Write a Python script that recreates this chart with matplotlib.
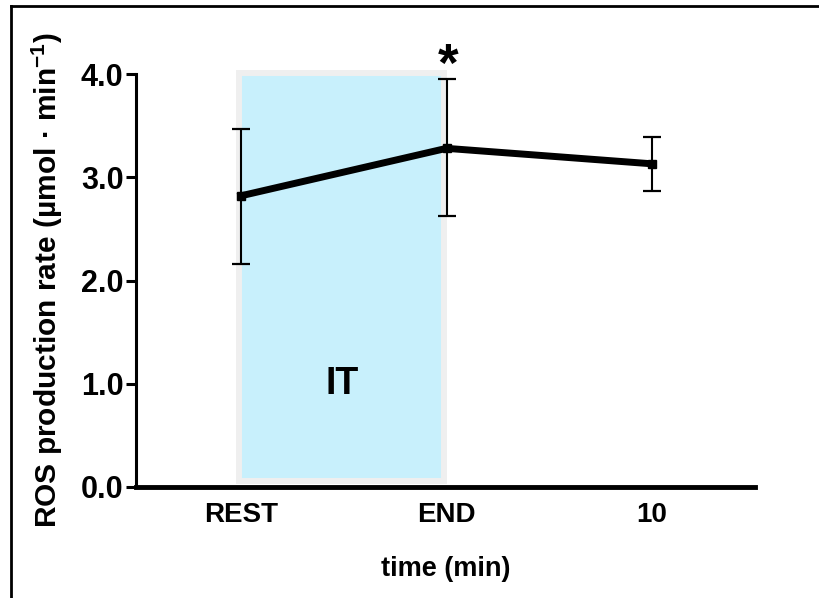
import matplotlib
matplotlib.use("Agg")
import matplotlib.pyplot as plt
from matplotlib.patches import Rectangle
from matplotlib.lines import Line2D

plt.rcParams['font.family'] = ['Liberation Sans', 'DejaVu Sans']
plt.rcParams['mathtext.fontset'] = 'custom'
plt.rcParams['mathtext.rm'] = 'Liberation Sans:bold'
plt.rcParams['mathtext.bf'] = 'Liberation Sans:bold'

categories = ["REST", "END", "10"]
means = [2.82, 3.28, 3.13]
err_low = [0.66, 0.66, 0.26]
err_high = [0.65, 0.67, 0.26]
yticks = [0.0, 1.0, 2.0, 3.0, 4.0]
ytick_labels = ["0.0", "1.0", "2.0", "3.0", "4.0"]

fig = plt.figure(figsize=(8.2, 5.98), dpi=100)
ax = fig.add_axes([136/820, 1-487/598, (755-136)/820, (487-74)/598])

x = list(range(len(categories)))

# shaded IT region
rect = Rectangle((-0.01, 0.06), 1.0, 3.95, facecolor='#c8f0fc', edgecolor='#efefef',
                 linewidth=4.3, clip_on=False, zorder=1)
ax.add_patch(rect)
ax.text(0.49, 1.0, "IT", ha='center', va='center', fontsize=27, fontweight='bold', zorder=2)

ax.errorbar(x, means, yerr=[err_low, err_high], color='black', linewidth=5,
            elinewidth=1.5, capsize=6.5, capthick=1.6, marker='s', markersize=6,
            zorder=3, clip_on=False)

ax.text(1.01, 3.93, "*", ha='center', va='baseline', fontsize=38, fontweight='bold')

ax.set_xlim(-0.51, 2.5)
ax.set_ylim(0, 4.0)
ax.set_xticks(x)
ax.set_xticklabels(categories, fontsize=20, fontweight='bold')
ax.set_yticks(yticks)
ax.set_yticklabels(ytick_labels, fontsize=22, fontweight='bold')
ax.tick_params(axis='y', length=7, width=2.2, direction='out', pad=2)
ax.tick_params(axis='x', length=0, pad=11)
for s in ['top', 'right']:
    ax.spines[s].set_visible(False)
ax.spines['left'].set_linewidth(2.2)
ax.spines['bottom'].set_linewidth(3.5)

ax.set_xlabel("time (min)", fontsize=19.5, fontweight='bold', labelpad=20)
fig.text(47/820, 1-280/598, r"ROS production rate (µmol · min$^{\mathbf{-1}}$)",
         rotation=90, ha='center', va='center', fontsize=21.5, fontweight='bold')

# figure frame (left and top edges visible)
fig.add_artist(Line2D([11/820, 11/820], [0, 1-6/598], color='black', linewidth=2,
                      transform=fig.transFigure))
fig.add_artist(Line2D([11/820, 1], [1-6/598, 1-6/598], color='black', linewidth=2,
                      transform=fig.transFigure))

fig.savefig("out.png", dpi=100)
